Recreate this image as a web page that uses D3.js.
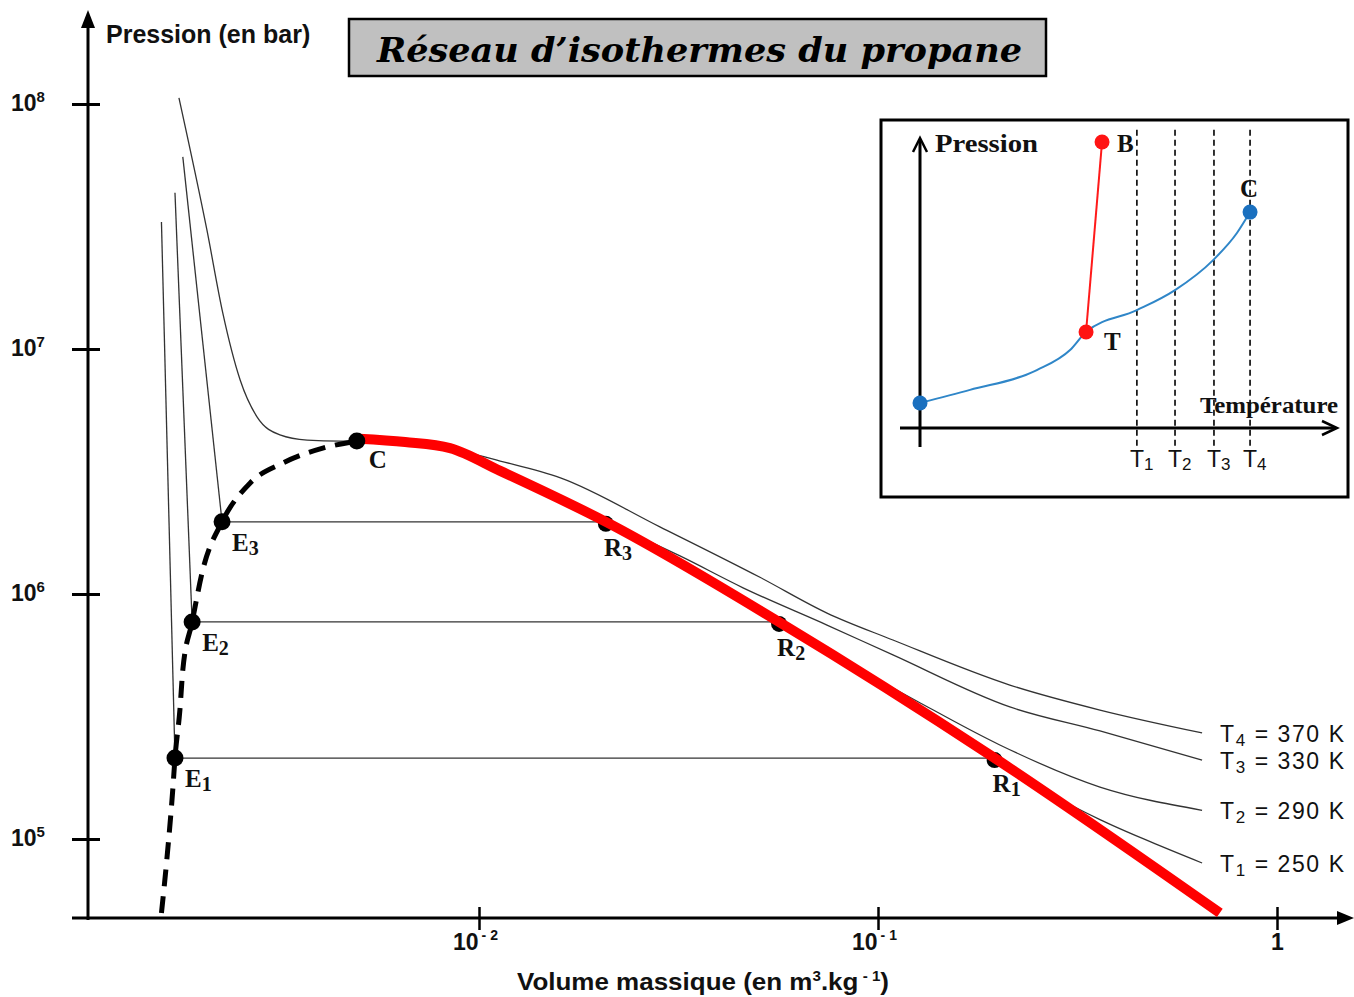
<!DOCTYPE html>
<html><head><meta charset="utf-8">
<script src="https://cdn.jsdelivr.net/npm/d3@7"></script>
<style>body{margin:0;background:#fff}svg{display:block}</style>
</head><body>
<svg id="c" width="1354" height="997"></svg>
<script>
// ---------------- DATA (volume in m3/kg, pressure in bar) ----------------
const yTickValues = [1e5, 1e6, 1e7, 1e8];
const yTickExps = ["5", "6", "7", "8"];
const xTickValues = [1e-2, 1e-1, 1];
const xTickExps = ["- 2", "- 1", ""];
const xTickBases = ["10", "10", "1"];

// saturated liquid (bubble) curve, dashed
const bubbleCurve = [[1.60e-3,4.99e4],[1.65e-3,8.20e4],[1.71e-3,1.63e5],[1.73e-3,2.14e5],[1.78e-3,3.37e5],
  [1.81e-3,4.90e5],[1.91e-3,7.69e5],[2.03e-3,1.25e6],[2.27e-3,1.97e6],[2.67e-3,2.84e6],[3.23e-3,3.43e6],
  [4.06e-3,3.94e6],[4.94e-3,4.21e6]];
// saturated vapour (dew) curve, red
const dewCurve = [[5.0e-3,4.30e6],[6.53e-3,4.17e6],[8.46e-3,3.94e6],[1.13e-2,3.18e6],
  [2.08e-2,1.97e6],[5.65e-2,7.69e5],[0.196,2.14e5],[0.719,4.99e4]];
const criticalPoint = [4.94e-3, 4.21e6];

// isotherms
const isoNames = ["T1","T2","T3","T4"];
const isoTemps = [250, 290, 330, 370];
const liquidT1 = [[1.60e-3,3.30e7],[1.73e-3,2.14e5]];
const liquidT2 = [[1.73e-3,4.34e7],[1.91e-3,7.69e5]];
const liquidT3 = [[1.81e-3,6.08e7],[2.27e-3,1.97e6]];
const plateauPressure = [2.14e5, 7.69e5, 1.97e6];
const plateauLiquidVolume = [1.73e-3, 1.91e-3, 2.27e-3];   // E1,E2,E3
const plateauVapourVolume = [0.196, 5.65e-2, 2.08e-2];     // R1,R2,R3
const gasT1 = [[0.196,2.14e5],[0.270,1.53e5],[0.360,1.20e5],[0.481,9.75e4],[0.649,7.98e4]];
const gasT2 = [[5.65e-2,7.69e5],[8.51e-2,5.18e5],[0.125,3.66e5],[0.202,2.42e5],[0.360,1.63e5],[0.649,1.31e5]];
const gasT3 = [[2.08e-2,1.97e6],[3.19e-2,1.43e6],[4.59e-2,1.06e6],[7.45e-2,7.47e5],[0.109,5.64e5],[0.214,3.46e5],[0.360,2.76e5],[0.649,2.10e5]];
const isoT4 = [[1.77e-3,1.06e8],[2.08e-3,3.06e7],[2.28e-3,1.40e7],[2.52e-3,7.47e6],[2.78e-3,5.27e6],[3.17e-3,4.46e6],
  [3.71e-3,4.25e6],[4.49e-3,4.21e6],[4.94e-3,4.21e6],[6.53e-3,4.13e6],[8.46e-3,3.91e6],[1.13e-2,3.49e6],[1.60e-2,2.98e6],
  [2.84e-2,1.88e6],[5.06e-2,1.17e6],[7.45e-2,8.36e5],[0.109,6.49e5],[0.214,4.25e5],[0.360,3.36e5],[0.649,2.71e5]];

// inset phase diagram (arbitrary units 0-100)
const insetVapT = [0, 12.2, 28.5, 36.6, 40.5, 52.9, 62.2, 71.5, 77.3, 80.5];
const insetVapP = [8.6, 13.1, 19.9, 26.8, 33.0, 40.5, 47.4, 57.7, 67.0, 74.2];
const insetFusion = [[40.5, 33.0], [44.4, 98.3]];
const insetIsoT = [52.9, 62.2, 71.7, 80.5];

// ---------------- DRAWING ----------------
const SANS = "Liberation Sans, Arial, sans-serif";
const SERIF = "Liberation Serif, Times New Roman, serif";
const svg = d3.select("#c");
const x = d3.scaleLog().domain([1e-2, 1]).range([479, 1277]);
const y = d3.scaleLog().domain([1e5, 1e8]).range([839, 104]);
const straight = d3.line().x(d => x(d[0])).y(d => y(d[1]));
const smooth = d3.line().x(d => x(d[0])).y(d => y(d[1])).curve(d3.curveMonotoneX);

const AX = 88, AY = 918;

// axes lines + arrows
svg.append("line").attr("x1", AX).attr("x2", AX).attr("y1", AY + 2).attr("y2", 24)
  .attr("stroke", "#000").attr("stroke-width", 3);
svg.append("path").attr("d", `M${AX},10 L${AX - 7},28 L${AX + 7},28 Z`).attr("fill", "#000");
svg.append("line").attr("x1", 72).attr("x2", 1340).attr("y1", AY).attr("y2", AY)
  .attr("stroke", "#000").attr("stroke-width", 3);
svg.append("path").attr("d", `M1354,${AY} L1337,${AY - 7} L1337,${AY + 7} Z`).attr("fill", "#000");

const gy = svg.append("g").attr("transform", `translate(${AX},0)`)
  .call(d3.axisLeft(y).tickValues(yTickValues).tickFormat("").tickSize(16).tickSizeOuter(0));
gy.select(".domain").remove();
gy.selectAll(".tick line").attr("x1", 12).attr("stroke", "#000").attr("stroke-width", 3);

const gx = svg.append("g").attr("transform", `translate(0,${AY})`)
  .call(d3.axisBottom(x).tickValues(xTickValues).tickFormat("").tickSize(12).tickSizeOuter(0));
gx.select(".domain").remove();
gx.selectAll(".tick line").attr("y1", -11).attr("stroke", "#000").attr("stroke-width", 2.5);

// y tick labels
yTickValues.forEach((v, i) => {
  const t = svg.append("text").attr("x", 11).attr("y", y(v) + 7)
    .attr("font-family", SANS).attr("font-weight", "bold").attr("font-size", 23).attr("fill", "#111");
  t.append("tspan").text("10");
  t.append("tspan").attr("dy", -9).attr("font-size", 15).text(yTickExps[i]);
});
// x tick labels
xTickValues.forEach((v, i) => {
  const base = xTickBases[i];
  const t = svg.append("text").attr("x", x(v) - (xTickExps[i] ? 26 : 6)).attr("y", 950)
    .attr("font-family", SANS).attr("font-weight", "bold").attr("font-size", 23).attr("fill", "#111");
  t.append("tspan").text(base);
  if (xTickExps[i]) t.append("tspan").attr("dx", 3).attr("dy", -10).attr("font-size", 14).text(xTickExps[i]);
});

// axis titles
svg.append("text").attr("x", 106).attr("y", 43).attr("font-family", SANS).attr("font-weight", "bold")
  .attr("font-size", 25).attr("fill", "#111").text("Pression (en bar)");
{
  const t = svg.append("text").attr("x", 517).attr("y", 990).attr("font-family", SANS).attr("font-weight", "bold")
    .attr("font-size", 24).attr("fill", "#111").attr("textLength", 372).attr("lengthAdjust", "spacingAndGlyphs");
  t.append("tspan").text("Volume massique (en m");
  t.append("tspan").attr("dy", -9).attr("font-size", 14).text("3");
  t.append("tspan").attr("dy", 9).text(".kg");
  t.append("tspan").attr("dy", -9).attr("font-size", 14).text(" - 1");
  t.append("tspan").attr("dy", 9).text(")");
}

// title box
svg.append("rect").attr("x", 349).attr("y", 19).attr("width", 697).attr("height", 57)
  .attr("fill", "#c0c0c0").attr("stroke", "#000").attr("stroke-width", 2.5);
svg.append("text").attr("x", 377).attr("y", 62).attr("font-family", "DejaVu Serif, serif")
  .attr("font-weight", "bold").attr("font-style", "italic").attr("font-size", 34)
  .attr("textLength", 645).attr("lengthAdjust", "spacingAndGlyphs").attr("fill", "#000")
  .text("Réseau d\u2019isothermes du propane");

// isotherms (thin)
const iso = svg.append("g").attr("fill", "none").attr("stroke", "#333").attr("stroke-width", 1.3);
[liquidT1, liquidT2, liquidT3].forEach(d => iso.append("path").attr("d", straight(d)));
plateauPressure.forEach((p, i) => iso.append("path")
  .attr("d", straight([[plateauLiquidVolume[i], p], [plateauVapourVolume[i], p]])));
[gasT1, gasT2, gasT3].forEach(d => iso.append("path").attr("d", smooth(d)));
iso.append("path").attr("d", smooth(isoT4));

// bubble curve dashed
svg.append("path").attr("d", smooth(bubbleCurve)).attr("fill", "none").attr("stroke", "#000")
  .attr("stroke-width", 5).attr("stroke-dasharray", "17,10");

// R points (beneath red curve)
plateauPressure.forEach((p, i) => svg.append("circle").attr("cx", x(plateauVapourVolume[i])).attr("cy", y(p) + 2)
  .attr("r", 8).attr("fill", "#000"));

// dew curve red
svg.append("path").attr("d", smooth(dewCurve)).attr("fill", "none").attr("stroke", "#ff0000")
  .attr("stroke-width", 10);

// E points and C
plateauPressure.forEach((p, i) => svg.append("circle").attr("cx", x(plateauLiquidVolume[i])).attr("cy", y(p))
  .attr("r", 8.5).attr("fill", "#000"));
svg.append("circle").attr("cx", x(criticalPoint[0])).attr("cy", y(criticalPoint[1])).attr("r", 8.5).attr("fill", "#000");

// point labels
function subLabel(px, py, main, sub, font, size, subSize, weight) {
  const t = svg.append("text").attr("x", px).attr("y", py).attr("font-family", font)
    .attr("font-weight", weight).attr("font-size", size).attr("fill", "#111");
  t.append("tspan").text(main);
  if (sub) t.append("tspan").attr("dy", 4).attr("font-size", subSize).text(sub);
  return t;
}
plateauPressure.forEach((p, i) => {
  subLabel(x(plateauLiquidVolume[i]) + 10, y(p) + 29, "E", String(i + 1), SERIF, 25, 20, "bold");
  subLabel(x(plateauVapourVolume[i]) - 2, y(p) + 34, "R", String(i + 1), SERIF, 25, 20, "bold");
});
subLabel(x(criticalPoint[0]) + 12, y(criticalPoint[1]) + 27, "C", "", SERIF, 25, 20, "bold");

// isotherm labels on the right
const gasEnds = [gasT1, gasT2, gasT3, isoT4].map(a => a[a.length - 1]);
isoNames.forEach((n, i) => {
  const e = gasEnds[i];
  const t = svg.append("text").attr("x", 1220).attr("y", y(e[1]) + 9).attr("font-family", SANS)
    .attr("font-size", 23).attr("fill", "#111").attr("textLength", 124).attr("lengthAdjust", "spacing");
  t.append("tspan").text("T");
  t.append("tspan").attr("dy", 4).attr("font-size", 17).text(n.slice(1));
  t.append("tspan").attr("dy", -4).text(" =  " + isoTemps[i] + " K");
});

// ---------------- INSET ----------------
const ins = svg.append("g");
ins.append("rect").attr("x", 881).attr("y", 120).attr("width", 467).attr("height", 377)
  .attr("fill", "#fff").attr("stroke", "#000").attr("stroke-width", 3);
const tx = d3.scaleLinear().domain([0, 100]).range([920, 1330]);
const tp = d3.scaleLinear().domain([0, 100]).range([428, 137]);
// dashed isotherm verticals
insetIsoT.forEach(v => ins.append("line").attr("x1", tx(v)).attr("x2", tx(v)).attr("y1", tp(102.5)).attr("y2", tp(-7.5))
  .attr("stroke", "#000").attr("stroke-width", 1.6).attr("stroke-dasharray", "6,4"));
// axes
ins.append("line").attr("x1", tx(0)).attr("x2", tx(0)).attr("y1", 447).attr("y2", 139)
  .attr("stroke", "#000").attr("stroke-width", 3);
ins.append("path").attr("d", `M${tx(0) - 7},152 L${tx(0)},138 L${tx(0) + 7},152`).attr("fill", "none")
  .attr("stroke", "#000").attr("stroke-width", 2.5);
ins.append("line").attr("x1", 900).attr("x2", 1336).attr("y1", tp(0)).attr("y2", tp(0))
  .attr("stroke", "#000").attr("stroke-width", 3);
ins.append("path").attr("d", `M1322,${tp(0) - 7} L1337,${tp(0)} L1322,${tp(0) + 7}`).attr("fill", "none")
  .attr("stroke", "#000").attr("stroke-width", 2.5);
// vaporisation curve
const vapPts = insetVapT.map((t, i) => [t, insetVapP[i]]);
ins.append("path").attr("d", d3.line().x(d => tx(d[0])).y(d => tp(d[1])).curve(d3.curveMonotoneX)(vapPts))
  .attr("fill", "none").attr("stroke", "#2f86c8").attr("stroke-width", 2);
// fusion line
ins.append("path").attr("d", d3.line().x(d => tx(d[0])).y(d => tp(d[1]))(insetFusion))
  .attr("fill", "none").attr("stroke", "#ff1a1a").attr("stroke-width", 2);
// points
[vapPts[0], vapPts[vapPts.length - 1]].forEach(d => ins.append("circle").attr("cx", tx(d[0])).attr("cy", tp(d[1]))
  .attr("r", 7.5).attr("fill", "#1a70bf"));
insetFusion.forEach(d => ins.append("circle").attr("cx", tx(d[0])).attr("cy", tp(d[1]))
  .attr("r", 7.5).attr("fill", "#ff1414"));
// inset texts
const insText = (px, py, s, size, len) => {
  const t = ins.append("text").attr("x", px).attr("y", py).attr("font-family", SERIF).attr("font-weight", "bold")
    .attr("font-size", size).attr("fill", "#111").text(s);
  if (len) t.attr("textLength", len).attr("lengthAdjust", "spacingAndGlyphs");
};
insText(935, 152, "Pression", 26, 103);
insText(tx(insetFusion[1][0]) + 15, 152, "B", 25);
insText(tx(insetFusion[0][0]) + 18, 350, "T", 25);
insText(tx(insetVapT[insetVapT.length - 1]) - 10, 197, "C", 25);
insText(1200, 413, "Température", 24, 138);
insetIsoT.forEach((v, i) => {
  const t = ins.append("text").attr("x", tx(v) - 7).attr("y", 467).attr("font-family", SANS)
    .attr("font-size", 23).attr("fill", "#111");
  t.append("tspan").text("T");
  t.append("tspan").attr("dy", 3).attr("font-size", 17).text(String(i + 1));
});
</script>
</body></html>
